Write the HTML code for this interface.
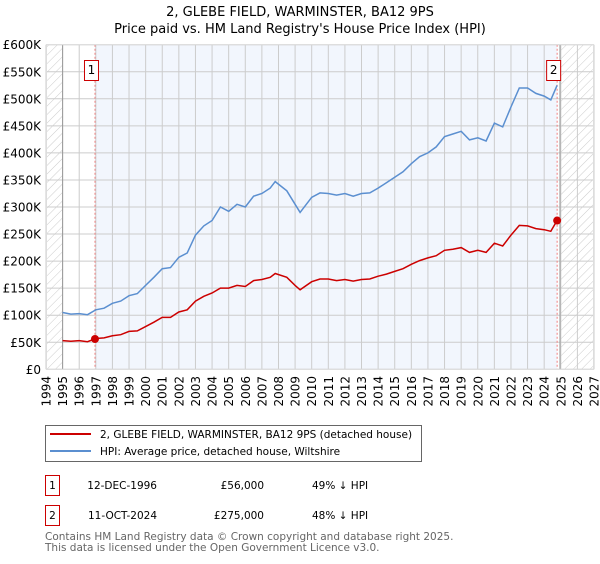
<!DOCTYPE html>
<html><head><meta charset="utf-8"><style>
body{margin:0;background:#fff;font-family:"DejaVu Sans","Liberation Sans",sans-serif}
svg text{font-family:"DejaVu Sans","Liberation Sans",sans-serif}
</style></head><body>
<svg id="chart" width="600" height="560" xmlns="http://www.w3.org/2000/svg">
<defs><pattern id="hatch" patternUnits="userSpaceOnUse" width="6" height="6" patternTransform="rotate(45)"><line x1="0" y1="0" x2="0" y2="6" stroke="#ccc" stroke-width="1"/></pattern></defs>
<text x="300" y="16" text-anchor="middle" font-size="13">2, GLEBE FIELD, WARMINSTER, BA12 9PS</text>
<text x="300" y="33" text-anchor="middle" font-size="13">Price paid vs. HM Land Registry's House Price Index (HPI)</text>
<g id="plot"></g>
<g>
<rect x="45.5" y="425.5" width="376" height="36" fill="#fff" stroke="#666"/>
<line x1="50" y1="434" x2="91" y2="434" stroke="#cc0000" stroke-width="2"/>
<text x="100" y="438" font-size="10.5">2, GLEBE FIELD, WARMINSTER, BA12 9PS (detached house)</text>
<line x1="50" y1="451" x2="91" y2="451" stroke="#5b8fd0" stroke-width="2"/>
<text x="100" y="455" font-size="10.5">HPI: Average price, detached house, Wiltshire</text>
</g>
<g font-size="10.5">
<rect x="45.5" y="475.5" width="14" height="20" fill="#fff" stroke="#cc0000"/>
<text x="52.5" y="489" text-anchor="middle">1</text>
<text x="157" y="489" text-anchor="end">12-DEC-1996</text>
<text x="264" y="489" text-anchor="end">£56,000</text>
<text x="312" y="489">49% ↓ HPI</text>
<rect x="45.5" y="505.5" width="14" height="20" fill="#fff" stroke="#cc0000"/>
<text x="52.5" y="519" text-anchor="middle">2</text>
<text x="157" y="519" text-anchor="end">11-OCT-2024</text>
<text x="264" y="519" text-anchor="end">£275,000</text>
<text x="312" y="519">48% ↓ HPI</text>
</g>
<text x="45" y="540" font-size="10.5" fill="#666">Contains HM Land Registry data © Crown copyright and database right 2025.</text>
<text x="45" y="551" font-size="10.5" fill="#666">This data is licensed under the Open Government Licence v3.0.</text>
</svg>
<script>
const times=[1995.0,1995.5,1996.0,1996.5,1997.0,1997.5,1998.0,1998.5,1999.0,1999.5,2000.0,2000.5,2001.0,2001.5,2002.0,2002.5,2003.0,2003.5,2004.0,2004.5,2005.0,2005.5,2006.0,2006.5,2007.0,2007.5,2007.8,2008.5,2009.0,2009.3,2010.0,2010.5,2011.0,2011.5,2012.0,2012.5,2013.0,2013.5,2014.0,2014.5,2015.0,2015.5,2016.0,2016.5,2017.0,2017.5,2018.0,2018.5,2019.0,2019.5,2020.0,2020.5,2021.0,2021.5,2022.0,2022.5,2023.0,2023.5,2024.0,2024.4,2024.78];
const hpiValues=[105,102,103,101,110,113,122,126,136,140,155,170,186,188,207,215,248,265,275,300,292,305,300,320,325,335,347,330,305,290,318,326,325,322,325,320,325,326,335,345,355,365,380,393,400,411,430,435,440,424,428,422,455,448,485,520,520,510,505,498,525];
const priceValues=[53,52,53,51,57,58,62,64,70,71,79,87,96,96,106,110,126,135,141,150,150,155,153,164,166,170,177,170,155,147,162,167,167,164,166,163,166,167,172,176,181,186,194,201,206,210,220,222,225,216,220,216,233,228,248,266,265,260,258,255,275];
const saleTimes=[1996.95,2024.78];
const saleValues=[56,275];
const saleLabels=["1","2"];
const yTicks=[0,50,100,150,200,250,300,350,400,450,500,550,600];
const yTickLabels=["£0","£50K","£100K","£150K","£200K","£250K","£300K","£350K","£400K","£450K","£500K","£550K","£600K"];
const xTicks=[1994,1995,1996,1997,1998,1999,2000,2001,2002,2003,2004,2005,2006,2007,2008,2009,2010,2011,2012,2013,2014,2015,2016,2017,2018,2019,2020,2021,2022,2023,2024,2025,2026,2027];

const L=46,R=594,T=44.7,B=369.3,x0=1994,x1=2027,yMax=600;
const X=t=>L+(t-x0)/(x1-x0)*(R-L);
const Y=v=>B-v/yMax*(B-T);
const NS="http://www.w3.org/2000/svg";
const g=document.getElementById('plot');
function mk(tag,attrs,parent){const e=document.createElementNS(NS,tag);for(const k in attrs)e.setAttribute(k,attrs[k]);(parent||g).appendChild(e);return e;}

let e;
e=mk('rect',{x:X(saleTimes[0]),y:T,width:X(saleTimes[1])-X(saleTimes[0]),height:B-T,fill:'#f2f6fd'});


e=mk('rect',{x:L,y:T,width:X(1995)-L,height:B-T,fill:'url(#hatch)'});


e=mk('rect',{x:X(2024.95),y:T,width:R-X(2024.95),height:B-T,fill:'url(#hatch)'});



yTicks.forEach((v,i)=>{
  e=mk('line',{x1:L,x2:R,y1:Y(v),y2:Y(v),stroke:'#ccc','stroke-width':1});
  
  
  e=mk('text',{x:L-5,y:Y(v)+4.5,'text-anchor':'end','font-size':'12'});
  e.textContent=yTickLabels[i];
  
  
});
xTicks.forEach(t=>{
  e=mk('line',{x1:X(t),x2:X(t),y1:T,y2:B,stroke:'#ccc','stroke-width':1});
  
  
  e=mk('text',{transform:`translate(${X(t)+4.5},376) rotate(-90)`,'text-anchor':'end','font-size':'12'});
  e.textContent=t;
  
  
});
e=mk('line',{x1:X(1995),x2:X(1995),y1:T,y2:B,stroke:'#999','stroke-width':1});


e=mk('line',{x1:X(2024.95),x2:X(2024.95),y1:T,y2:B,stroke:'#999','stroke-width':1});



saleTimes.forEach((t,i)=>{
  e=mk('line',{x1:X(t),x2:X(t),y1:T,y2:B,stroke:'#f08080','stroke-width':1,'stroke-dasharray':'2,2'});
  
  
});

const path=(ts,vs)=>ts.map((t,i)=>(i?'L':'M')+X(t).toFixed(1)+','+Y(vs[i]).toFixed(1)).join('');
e=mk('path',{d:path(times,hpiValues),fill:'none',stroke:'#5b8fd0','stroke-width':1.5});


e=mk('path',{d:path(times,priceValues),fill:'none',stroke:'#cc0000','stroke-width':1.5});



saleTimes.forEach((t,i)=>{
  e=mk('circle',{cx:X(t),cy:Y(saleValues[i]),r:4,fill:'#cc0000'});
  
  
  e=mk('rect',{x:X(t)-10.5,y:60.5,width:14,height:20,fill:'#fff',stroke:'#cc0000'});
  
  
  e=mk('text',{x:X(t)-3.5,y:74,'text-anchor':'middle','font-size':'12'});
  e.textContent=saleLabels[i];
  
  
});
e=mk('rect',{x:L+0.5,y:T,width:R-L-1,height:B-T,fill:'none',stroke:'#ddd'});


</script>
</body></html>
